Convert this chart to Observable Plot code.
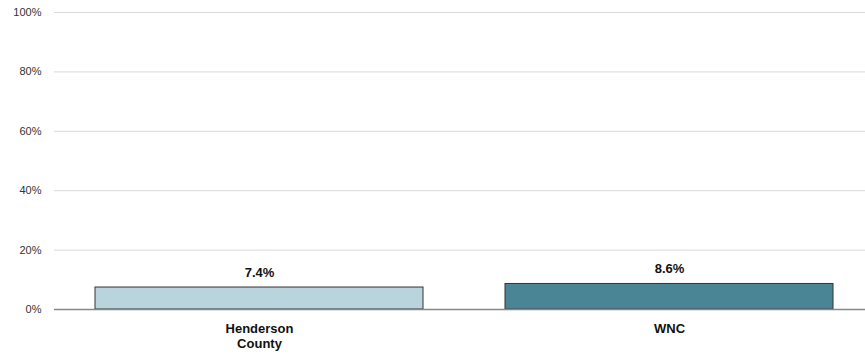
<!DOCTYPE html>
<html>
<head>
<meta charset="utf-8">
<script src="https://cdn.jsdelivr.net/npm/d3@7"></script>
<script src="https://cdn.jsdelivr.net/npm/@observablehq/plot@0.6"></script>
<style>
  html, body { margin: 0; padding: 0; background: #fff; }
  svg { font-family: "Liberation Sans", Arial, sans-serif; }
</style>
</head>
<body>
<div id="chart"></div>
<script>
const categories = ["Henderson County", "WNC"];
const values = [7.4, 8.6];
const colors = ["#bad4de", "#4a8595"];
const yTicks = [0, 20, 40, 60, 80, 100];

const data = categories.map((c, i) => ({category: c, value: values[i], color: colors[i]}));

const chart = Plot.plot({
  width: 865,
  height: 358,
  marginTop: 12,
  marginBottom: 49,
  marginLeft: 54,
  marginRight: 0,
  style: {fontFamily: "'Liberation Sans', Arial, sans-serif", background: "#fff"},
  x: {domain: categories, range: [54, 874], paddingInner: 0.2, paddingOuter: 0.1, label: null},
  y: {domain: [0, 100], label: null},
  marks: [
    Plot.gridY(yTicks, {stroke: "#d9d9d9", strokeOpacity: 1, strokeWidth: 1}),
    Plot.axisY(yTicks, {tickSize: 0, tickPadding: 13, tickFormat: d => d + "%", fontSize: 11, fill: "#333", label: null}),
    Plot.barY(data, {x: "category", y: "value", fill: "color", stroke: "#333", strokeWidth: 1}),
    Plot.ruleY([0], {stroke: "#888", strokeWidth: 1.5}),
    Plot.text(data, {x: "category", y: "value", text: d => d.value.toFixed(1) + "%", dy: -15, fontWeight: "bold", fontSize: 13, fill: "#111"}),
    Plot.axisX({tickSize: 0, tickPadding: 12, fontWeight: "bold", fontSize: 13, fill: "#111", lineHeight: 1.2,
      tickFormat: d => d.replace(" ", "\n"), label: null})
  ]
});
document.getElementById("chart").appendChild(chart);
</script>
</body>
</html>
